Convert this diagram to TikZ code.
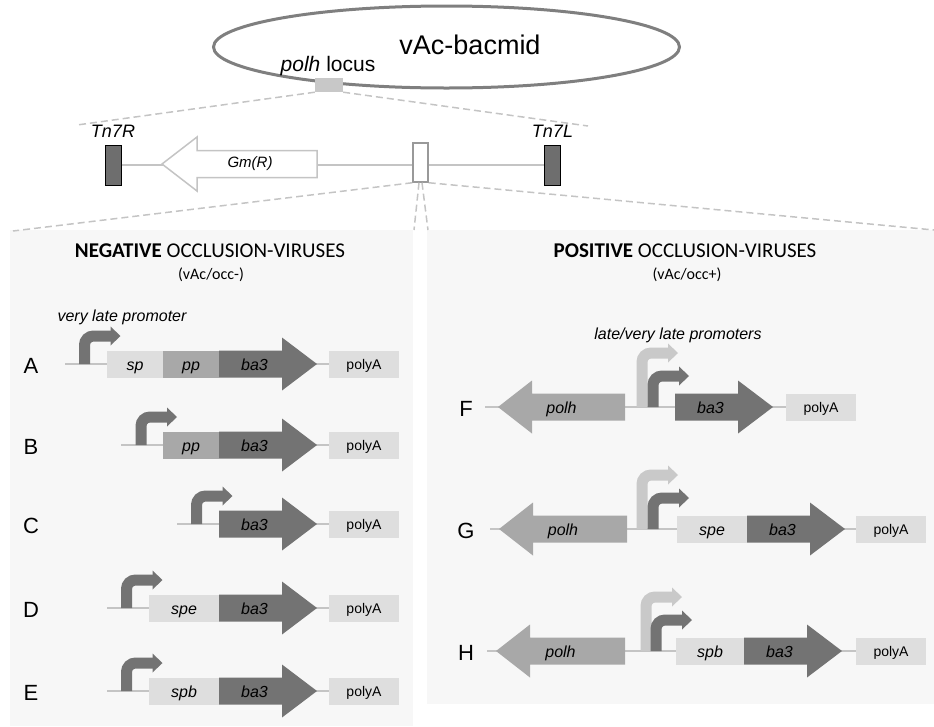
\documentclass[tikz,border=0pt]{standalone}
\usepackage{fontspec}
\setmainfont{Liberation Sans}
\newfontfamily\calib{Carlito}
\usetikzlibrary{positioning,shapes.geometric}

\definecolor{dkgrey}{HTML}{737373}
\definecolor{mdgrey}{HTML}{A8A8A8}
\definecolor{ltgrey}{HTML}{DEDEDE}
\definecolor{pmgrey}{HTML}{C9C9C9}
\definecolor{lngrey}{HTML}{C4C4C4}
\definecolor{bacgrey}{HTML}{7F7F7F}
\definecolor{tngrey}{HTML}{6E6E6E}
\definecolor{panelbg}{HTML}{F7F7F7}

% box of a construct: name, left x, right x, y, colour, text
\newcommand{\segbox}[6]{\node[seg,fill=#5,minimum width=#3pt-#2pt] (#1) at ({(#2+#3)/2},#4) {#6};}
% gene arrow to the right: name, left x, head x, tip x, y, text
\newcommand{\rgene}[6]{%
  \fill[dkgrey] (#2,#5-13.5) -- (#3,#5-13.5) -- (#3,#5-26.5) -- (#4,#5) -- (#3,#5+26.5) -- (#3,#5+13.5) -- (#2,#5+13.5) -- cycle;
  \node[genelbl] (#1) at ({(#2+#3)/2+4},#5) {#6};}
% gene arrow to the left: name, tip x, head x, right x, y, text
\newcommand{\lgene}[6]{%
  \fill[mdgrey] (#2,#5) -- (#3,#5-26.5) -- (#3,#5-13.5) -- (#4,#5-13.5) -- (#4,#5+13.5) -- (#3,#5+13.5) -- (#3,#5+26.5) -- cycle;
  \node[genelbl] (#1) at ({(#2+#4)/2},#5) {#6};}
% promoter: stem x, base y, rise, colour
\newcommand{\prom}[4]{%
  \draw[line width=11pt,#4,rounded corners=9pt] (#1,#2) |- (#1+26.5,#2-#3);
  \fill[#4] (#1+26,#2-#3-9.5) -- (#1+36,#2-#3) -- (#1+26,#2-#3+9.5) -- cycle;}

\begin{document}
\begin{tikzpicture}[x=1pt,y=-1pt,
    bline/.style={draw=lngrey,line width=2.5pt},
    guide/.style={draw=lngrey,line width=1.5pt,dash pattern=on 7pt off 4pt},
    seg/.style={inner sep=0pt,minimum height=27pt,text height=12pt,text depth=0pt,font=\fontsize{16}{19}\selectfont\itshape},
    pa/.style={seg,fill=ltgrey,minimum width=70pt,text height=10pt,font=\fontsize{14}{17}\selectfont},
    genelbl/.style={inner sep=0pt,text height=12pt,text depth=0pt,font=\fontsize{16}{19}\selectfont\itshape},
    rowlbl/.style={inner sep=0pt,font=\fontsize{22}{26}\selectfont},
    tn/.style={draw=black,fill=tngrey,line width=1pt,minimum width=16pt,minimum height=40pt,inner sep=0pt},
    tnlbl/.style={inner sep=0pt,font=\fontsize{18}{21}\selectfont\itshape},
    hd/.style={font=\calib\fontsize{21}{25}\selectfont},
    subhd/.style={font=\calib\fontsize{16}{19}\selectfont},
    promlbl/.style={font=\fontsize{16}{19}\selectfont\itshape}]
\useasboundingbox (0,0) rectangle (934,726);

% panels
\fill[panelbg] (10,230) rectangle (413,726);
\fill[panelbg] (427,230) rectangle (934,704);

% bacmid
\node[draw=bacgrey,line width=3pt,ellipse,minimum width=466pt,minimum height=82pt,inner sep=0pt] (bacmid) at (446.5,47) {};
\node[font=\fontsize{27}{32}\selectfont] (bactxt) at (470,45) {vAc-bacmid};
\node[fill=ltgrey!90!black,minimum width=28pt,minimum height=14pt,inner sep=0pt] (locus) at (329,85) {};
\node[font=\fontsize{21}{25}\selectfont] (locuslbl) at (328,66) {\textit{polh} locus};

\coordinate (gl1) at (77,125);
\coordinate (gr1) at (588,126);
\draw[guide] (locus.south west) -- (gl1);
\draw[guide] (locus.south east) -- (gr1);

% transposon cassette
\node[tn] (tnR) at (113,165) {};
\node[tn] (tnL) at (552.5,165) {};
\node[tnlbl,above=7pt of tnR] {Tn7R};
\node[tnlbl,above=7pt of tnL] {Tn7L};
\draw[bline] (tnR.east) -- (tnL.west);
\draw[draw=lngrey,fill=white,line width=1.5pt] (317,150.5) -- (197,150.5) -- (197,137) -- (162,164) -- (197,191) -- (197,177.5) -- (317,177.5) -- cycle;
\node[font=\fontsize{15}{18}\selectfont\itshape] (gm) at (250,164) {Gm(R)};
\node[draw=bacgrey!80,fill=white,line width=1.5pt,minimum width=15pt,minimum height=39pt,inner sep=0pt] (site) at (420.5,162.5) {};

\coordinate (gl2) at (13,231);
\coordinate (gr2) at (934,230);
\draw[guide] (site.south west) -- (gl2);
\draw[guide] (site.south east) -- (gr2);
\draw[guide] ([xshift=-1.5pt]site.south) -- (414,230);
\draw[guide] ([xshift=1.5pt]site.south) -- (428,230);

% headers
\node[hd] (neghd) at (210,251) {\textbf{NEGATIVE} OCCLUSION-VIRUSES};
\node[subhd] (negsub) at (211,275) {(vAc/occ-)};
\node[hd] (poshd) at (685,251) {\textbf{POSITIVE} OCCLUSION-VIRUSES};
\node[subhd] (possub) at (687,275) {(vAc/occ+)};

\node[promlbl] (vlp) at (122,317) {very late promoter};
\node[promlbl] (lvlp) at (678,335) {late/very late promoters};

% A
\draw[bline] (65,364) -- (329,364);
\segbox{spA}{107}{163}{364}{ltgrey}{sp}
\segbox{ppA}{163}{219}{364}{mdgrey}{pp}
\rgene{baA}{219}{282}{317}{364}{ba3}
\node[pa] (paA) at (364,364) {polyA};
\prom{84.5}{364}{28}{dkgrey}
\node[rowlbl] (rA) at (31,366) {A};

% B
\draw[bline] (121,445) -- (329,445);
\segbox{ppB}{163}{219}{445}{mdgrey}{pp}
\rgene{baB}{219}{282}{317}{445}{ba3}
\node[pa] (paB) at (364,445) {polyA};
\prom{141}{445}{28}{dkgrey}
\node[rowlbl] (rB) at (31,447) {B};

% C
\draw[bline] (177,524) -- (329,524);
\rgene{baC}{219}{282}{317}{524}{ba3}
\node[pa] (paC) at (364,524) {polyA};
\prom{196.5}{524}{28}{dkgrey}
\node[rowlbl] (rC) at (31,526) {C};

% D
\draw[bline] (107,608) -- (329,608);
\segbox{speD}{149}{219}{608}{ltgrey}{spe}
\rgene{baD}{219}{282}{317}{608}{ba3}
\node[pa] (paD) at (364,608) {polyA};
\prom{126.5}{608}{28}{dkgrey}
\node[rowlbl] (rD) at (31,610) {D};

% E
\draw[bline] (107,691) -- (329,691);
\segbox{spbE}{149}{219}{691}{ltgrey}{spb}
\rgene{baE}{219}{282}{317}{691}{ba3}
\node[pa] (paE) at (364,691) {polyA};
\prom{126.5}{691}{28}{dkgrey}
\node[rowlbl] (rE) at (31,693) {E};

% F
\draw[bline] (485,407) -- (786,407);
\lgene{polhF}{498}{532}{625}{407}{polh}
\prom{642}{407}{54}{pmgrey}
\prom{653}{407}{31}{dkgrey}
\rgene{baF}{675}{738}{773}{407}{ba3}
\node[pa] (paF) at (821,407) {polyA};
\node[rowlbl] (rF) at (466,409) {F};

% G
\draw[bline] (490,529) -- (856,529);
\lgene{polhG}{499}{533}{627}{529}{polh}
\prom{642}{529}{54}{pmgrey}
\prom{653}{529}{31}{dkgrey}
\segbox{speG}{677}{747}{529}{ltgrey}{spe}
\rgene{baG}{747}{810}{845}{529}{ba3}
\node[pa] (paG) at (891,529) {polyA};
\node[rowlbl] (rG) at (466,531) {G};

% H
\draw[bline] (487,651) -- (856,651);
\lgene{polhH}{496}{530}{625}{651}{polh}
\prom{646}{651}{54}{pmgrey}
\prom{656}{651}{31}{dkgrey}
\segbox{spbH}{676}{744}{651}{ltgrey}{spb}
\rgene{baH}{744}{807}{842}{651}{ba3}
\node[pa] (paH) at (891,651) {polyA};
\node[rowlbl] (rH) at (466,653) {H};
\end{tikzpicture}
\end{document}
